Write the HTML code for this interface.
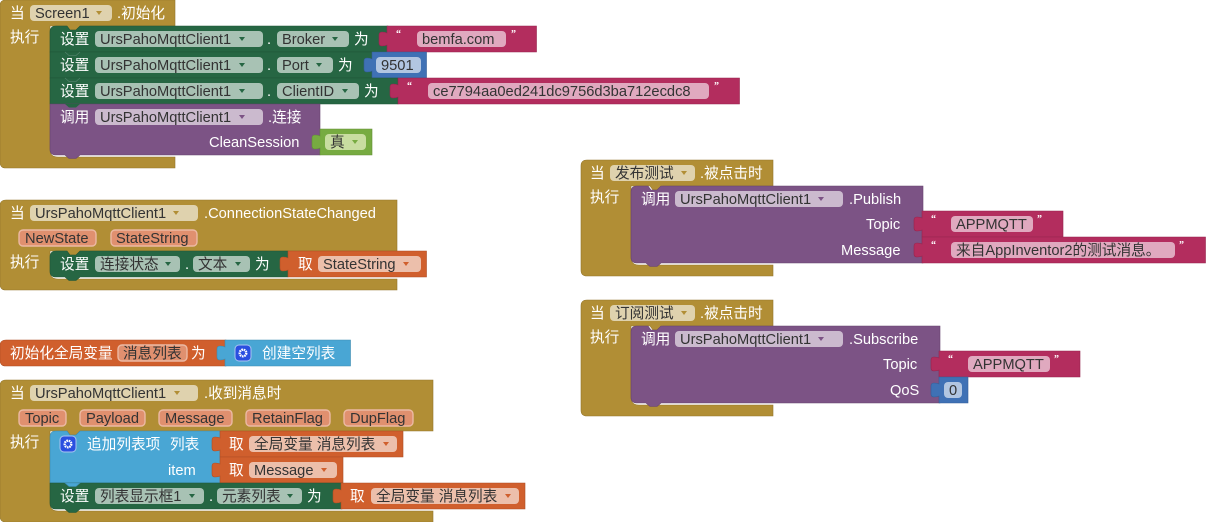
<!DOCTYPE html>
<html><head><meta charset="utf-8">
<style>
html,body{margin:0;padding:0;background:#fff}
svg{display:block}
text{font-family:"Liberation Sans","Noto Sans CJK SC",sans-serif;font-size:14.67px;fill:#fff}
.d{fill:#333}
.q{font-family:"Liberation Serif",serif;font-size:10px;font-weight:bold}
.au{fill:#b18e35;stroke:#93762c;stroke-width:.6}
.gr{fill:#266643;stroke:#1f5537;stroke-width:.6}
.pu{fill:#7c5385;stroke:#67456f;stroke-width:.6}
.ma{fill:#b32d5e;stroke:#95254e;stroke-width:.6}
.bl{fill:#3f71b5;stroke:#345e97;stroke-width:.6}
.lg{fill:#77ab41;stroke:#638e36;stroke-width:.6}
.or{fill:#d05f2d;stroke:#ad4f25;stroke-width:.6}
.li{fill:#49a6d4;stroke:#3d8ab0;stroke-width:.6}
.fa{fill:#dfd2ae}.fg{fill:#a8c2b4}.fp{fill:#cbbace}.fm{fill:#e0a9bf}.fb{fill:#b2c6e1}.fl{fill:#c8dda0}.fo{fill:#ecbfab}
.pa{fill:#e0906f;stroke:#ecb9a3;stroke-width:1.4}
.ta{fill:#b18e35}.tg{fill:#266643}.tp{fill:#7c5385}.tl{fill:#77ab41}.to{fill:#d05f2d}
.ic{fill:#2a4fe0;stroke:#a9c4f0;stroke-width:1}
.g{fill:none;stroke:#fff;stroke-width:2.4;stroke-dasharray:1.6 .7}
.ch{fill:none;stroke:#4f8068;stroke-width:.8}
.cp{fill:none;stroke:#5f8a72;stroke-width:.8}
.cb{fill:none;stroke:#79c0e4;stroke-width:.8}
</style></head>
<body>
<svg width="1206" height="522" viewBox="0 0 1206 522" xmlns="http://www.w3.org/2000/svg">

<!-- Block 1 -->
<path class="au" d="M6 0H175V26H80l-4 4h-6l-3-4H50V150q0 7 8 7H175V168H6q-6 0-6-6V6q0-6 6-6z"/>
<text x="10" y="18">当</text>
<rect class="fa" x="30" y="5" width="82" height="16" rx="4"/>
<text class="d" x="35" y="18">Screen1</text>
<path class="ta" d="M96 11h6l-3 4z"/>
<text x="117" y="18">.初始化</text>
<text x="10" y="42">执行</text>

<path class="gr" d="M56 26H67l3 4h6l4-4H388V52H50V32q0-6 6-6z"/>
<text x="60" y="44">设置</text>
<rect class="fg" x="95" y="31" width="168" height="16" rx="4"/>
<text class="d" x="100" y="44">UrsPahoMqttClient1</text>
<path class="tg" d="M239 37h6l-3 4z"/>
<text x="267" y="44">.</text>
<rect class="fg" x="277" y="31" width="72" height="16" rx="4"/>
<text class="d" x="282" y="44">Broker</text>
<path class="tg" d="M332 37h6l-3 4z"/>
<text x="354" y="44">为</text>
<path class="ma" d="M387 26H536.500V52H387V45c-2 1-4 1-5 1q-3 0-3-3v-8q0-3 3-3c1 0 3 0 5 1z"/>
<text class="q" x="396" y="37">“</text>
<rect class="fm" x="417" y="31" width="89" height="16" rx="4"/>
<text class="d" x="422" y="44">bemfa.com</text>
<text class="q" x="511" y="37">”</text>

<path class="gr" d="M50 52H372V78H50z"/>
<path class="ch" d="M65 52l4 3.500h7l4-3.500"/>
<text x="60" y="70">设置</text>
<rect class="fg" x="95" y="57" width="168" height="16" rx="4"/>
<text class="d" x="100" y="70">UrsPahoMqttClient1</text>
<path class="tg" d="M239 63h6l-3 4z"/>
<text x="267" y="70">.</text>
<rect class="fg" x="277" y="57" width="56" height="16" rx="4"/>
<text class="d" x="282" y="70">Port</text>
<path class="tg" d="M316 63h6l-3 4z"/>
<text x="338" y="70">为</text>
<path class="bl" d="M372 52H426.500V78H372V71c-2 1-4 1-5 1q-3 0-3-3v-8q0-3 3-3c1 0 3 0 5 1z"/>
<rect class="fb" x="376" y="57" width="45" height="16" rx="4"/>
<text class="d" x="381" y="70">9501</text>

<path class="gr" d="M50 78H398V104H50z"/>
<path class="ch" d="M65 78l4 3.500h7l4-3.500"/>
<text x="60" y="96">设置</text>
<rect class="fg" x="95" y="83" width="168" height="16" rx="4"/>
<text class="d" x="100" y="96">UrsPahoMqttClient1</text>
<path class="tg" d="M239 89h6l-3 4z"/>
<text x="267" y="96">.</text>
<rect class="fg" x="277" y="83" width="82" height="16" rx="4"/>
<text class="d" x="282" y="96">ClientID</text>
<path class="tg" d="M342 89h6l-3 4z"/>
<text x="364" y="96">为</text>
<path class="ma" d="M398 78H739.500V104H398V97c-2 1-4 1-5 1q-3 0-3-3v-8q0-3 3-3c1 0 3 0 5 1z"/>
<text class="q" x="407" y="89">“</text>
<rect class="fm" x="428" y="83" width="281" height="16" rx="4"/>
<text class="d" x="433" y="96">ce7794aa0ed241dc9756d3ba712ecdc8</text>
<text class="q" x="714" y="89">”</text>

<path class="pu" d="M50 104H320V155H80l-4 3.500h-7l-4-3.500H56q-6 0-6-6z"/>
<path class="tg" d="M65 104l4 3.500h7l4-3.500z"/>
<text x="60" y="122">调用</text>
<rect class="fp" x="95" y="109" width="168" height="16" rx="4"/>
<text class="d" x="100" y="122">UrsPahoMqttClient1</text>
<path class="tp" d="M239 115h6l-3 4z"/>
<text x="268" y="122">.连接</text>
<text x="209" y="147">CleanSession</text>
<path class="lg" d="M320 129H372V155H320V148c-2 1-4 1-5 1q-3 0-3-3v-8q0-3 3-3c1 0 3 0 5 1z"/>
<rect class="fl" x="325" y="134" width="41" height="16" rx="4"/>
<text class="d" x="330" y="147">真</text>
<path class="tl" d="M352 140h6l-3 4z"/>

<!-- Block 2 -->
<path class="au" d="M6 200H397V251H80l-4 4h-6l-3-4H50V272q0 7 8 7H397V290H6q-6 0-6-6V206q0-6 6-6z"/>
<text x="10" y="218">当</text>
<rect class="fa" x="30" y="205" width="168" height="16" rx="4"/>
<text class="d" x="35" y="218">UrsPahoMqttClient1</text>
<path class="ta" d="M173 211h6l-3 4z"/>
<text x="204" y="218">.ConnectionStateChanged</text>
<rect class="pa" x="19" y="230" width="77" height="16" rx="4"/>
<text class="d" x="25" y="243">NewState</text>
<rect class="pa" x="111" y="230" width="86" height="16" rx="4"/>
<text class="d" x="116" y="243">StateString</text>
<text x="10" y="267">执行</text>
<path class="gr" d="M56 251H67l3 4h6l4-4H288V277H80l-4 3.500h-7l-4-3.500H56q-6 0-6-6V257q0-6 6-6z"/>
<text x="60" y="269">设置</text>
<rect class="fg" x="95" y="256" width="85" height="16" rx="4"/>
<text class="d" x="100" y="269">连接状态</text>
<path class="tg" d="M165 262h6l-3 4z"/>
<text x="185" y="269">.</text>
<rect class="fg" x="193" y="256" width="57" height="16" rx="4"/>
<text class="d" x="198" y="269">文本</text>
<path class="tg" d="M235 262h6l-3 4z"/>
<text x="255" y="269">为</text>
<path class="or" d="M288 251H426.500V277H288V270c-2 1-4 1-5 1q-3 0-3-3v-8q0-3 3-3c1 0 3 0 5 1z"/>
<text x="298" y="269">取</text>
<rect class="fo" x="318" y="256" width="103" height="16" rx="4"/>
<text class="d" x="323" y="269">StateString</text>
<path class="to" d="M403 262h6l-3 4z"/>

<!-- Block 3 -->
<path class="or" d="M6 340H226V366H6q-6 0-6-6V346q0-6 6-6z"/>
<text x="10" y="358">初始化全局变量</text>
<rect class="pa" x="118" y="345" width="69" height="16" rx="4"/>
<text class="d" x="123" y="358">消息列表</text>
<text x="191" y="358">为</text>
<path class="li" d="M225 340H350.500V366H225V359c-2 1-4 1-5 1q-3 0-3-3v-8q0-3 3-3c1 0 3 0 5 1z"/>
<rect class="ic" x="235" y="345" width="16" height="16" rx="4"/>
<circle class="g" cx="243" cy="353" r="3.300"/>
<text x="262" y="358">创建空列表</text>

<!-- Block 4 -->
<path class="au" d="M6 380H433V431H80l-4 4h-6l-3-4H50V504q0 7 8 7H433V522H6q-6 0-6-6V386q0-6 6-6z"/>
<text x="10" y="398">当</text>
<rect class="fa" x="30" y="385" width="168" height="16" rx="4"/>
<text class="d" x="35" y="398">UrsPahoMqttClient1</text>
<path class="ta" d="M174 391h6l-3 4z"/>
<text x="204" y="398">.收到消息时</text>
<rect class="pa" x="19" y="410" width="47" height="16" rx="4"/>
<text class="d" x="25" y="423">Topic</text>
<rect class="pa" x="80" y="410" width="65" height="16" rx="4"/>
<text class="d" x="86" y="423">Payload</text>
<rect class="pa" x="159" y="410" width="73" height="16" rx="4"/>
<text class="d" x="165" y="423">Message</text>
<rect class="pa" x="246" y="410" width="84" height="16" rx="4"/>
<text class="d" x="252" y="423">RetainFlag</text>
<rect class="pa" x="344" y="410" width="69" height="16" rx="4"/>
<text class="d" x="350" y="423">DupFlag</text>
<text x="10" y="447">执行</text>

<path class="li" d="M56 431H67l3 4h6l4-4H221V483H50V437q0-6 6-6z"/>
<rect class="ic" x="60" y="436" width="16" height="16" rx="4"/>
<circle class="g" cx="68" cy="444" r="3.300"/>
<text x="87" y="449">追加列表项</text>
<text x="170" y="449">列表</text>
<text x="168" y="475">item</text>
<path class="or" d="M220 431H403V457H220V450c-2 1-4 1-5 1q-3 0-3-3v-8q0-3 3-3c1 0 3 0 5 1z"/>
<text x="229" y="449">取</text>
<rect class="fo" x="249" y="436" width="148" height="16" rx="4"/>
<text class="d" x="254" y="449">全局变量 消息列表</text>
<path class="to" d="M383 442h6l-3 4z"/>
<path class="or" d="M220 457H343V483H220V476c-2 1-4 1-5 1q-3 0-3-3v-8q0-3 3-3c1 0 3 0 5 1z"/>
<text x="229" y="475">取</text>
<rect class="fo" x="249" y="462" width="88" height="16" rx="4"/>
<text class="d" x="254" y="475">Message</text>
<path class="to" d="M321 468h6l-3 4z"/>

<path class="gr" d="M50 483H342V509H80l-4 3.500h-7l-4-3.500H56q-6 0-6-6z"/>
<path class="li" d="M65 483l4 3.500h7l4-3.500z"/>
<text x="60" y="501">设置</text>
<rect class="fg" x="95" y="488" width="109" height="16" rx="4"/>
<text class="d" x="100" y="501">列表显示框1</text>
<path class="tg" d="M189 494h6l-3 4z"/>
<text x="209" y="501">.</text>
<rect class="fg" x="217" y="488" width="85" height="16" rx="4"/>
<text class="d" x="222" y="501">元素列表</text>
<path class="tg" d="M287 494h6l-3 4z"/>
<text x="307" y="501">为</text>
<path class="or" d="M341 483H525V509H341V502c-2 1-4 1-5 1q-3 0-3-3v-8q0-3 3-3c1 0 3 0 5 1z"/>
<text x="350" y="501">取</text>
<rect class="fo" x="371" y="488" width="148" height="16" rx="4"/>
<text class="d" x="376" y="501">全局变量 消息列表</text>
<path class="to" d="M505 494h6l-3 4z"/>

<!-- Block 5 -->
<path class="au" d="M587 160H773V186H663l-4 4h-6l-3-4H631V258q0 7 8 7H773V276H587q-6 0-6-6V166q0-6 6-6z"/>
<text x="590" y="178">当</text>
<rect class="fa" x="610" y="165" width="85" height="16" rx="4"/>
<text class="d" x="615" y="178">发布测试</text>
<path class="ta" d="M681 171h6l-3 4z"/>
<text x="700" y="178">.被点击时</text>
<text x="590" y="202">执行</text>
<path class="pu" d="M637 186H648l3 4h6l4-4H923V263H661l-4 3.500h-7l-4-3.500H637q-6 0-6-6V192q0-6 6-6z"/>
<text x="641" y="204">调用</text>
<rect class="fp" x="675" y="191" width="168" height="16" rx="4"/>
<text class="d" x="680" y="204">UrsPahoMqttClient1</text>
<path class="tp" d="M818 197h6l-3 4z"/>
<text x="849" y="204">.Publish</text>
<text x="866" y="229">Topic</text>
<text x="841" y="255">Message</text>
<path class="ma" d="M922 211H1063V237H922V230c-2 1-4 1-5 1q-3 0-3-3v-8q0-3 3-3c1 0 3 0 5 1z"/>
<text class="q" x="931" y="222">“</text>
<rect class="fm" x="951" y="216" width="82" height="16" rx="4"/>
<text class="d" x="956" y="229">APPMQTT</text>
<text class="q" x="1037" y="222">”</text>
<path class="ma" d="M922 237H1205.500V263H922V256c-2 1-4 1-5 1q-3 0-3-3v-8q0-3 3-3c1 0 3 0 5 1z"/>
<text class="q" x="931" y="248">“</text>
<rect class="fm" x="951" y="242" width="224" height="16" rx="4"/>
<text class="d" x="956" y="255">来自AppInventor2的测试消息。</text>
<text class="q" x="1179" y="248">”</text>

<!-- Block 6 -->
<path class="au" d="M587 300H773V326H663l-4 4h-6l-3-4H631V398q0 7 8 7H773V416H587q-6 0-6-6V306q0-6 6-6z"/>
<text x="590" y="318">当</text>
<rect class="fa" x="610" y="305" width="85" height="16" rx="4"/>
<text class="d" x="615" y="318">订阅测试</text>
<path class="ta" d="M681 311h6l-3 4z"/>
<text x="700" y="318">.被点击时</text>
<text x="590" y="342">执行</text>
<path class="pu" d="M637 326H648l3 4h6l4-4H940V403H661l-4 3.500h-7l-4-3.500H637q-6 0-6-6V332q0-6 6-6z"/>
<text x="641" y="344">调用</text>
<rect class="fp" x="675" y="331" width="168" height="16" rx="4"/>
<text class="d" x="680" y="344">UrsPahoMqttClient1</text>
<path class="tp" d="M818 337h6l-3 4z"/>
<text x="849" y="344">.Subscribe</text>
<text x="883" y="369">Topic</text>
<text x="890" y="395">QoS</text>
<path class="ma" d="M939 351H1080V377H939V370c-2 1-4 1-5 1q-3 0-3-3v-8q0-3 3-3c1 0 3 0 5 1z"/>
<text class="q" x="948" y="362">“</text>
<rect class="fm" x="968" y="356" width="82" height="16" rx="4"/>
<text class="d" x="973" y="369">APPMQTT</text>
<text class="q" x="1054" y="362">”</text>
<path class="bl" d="M939 377H968V403H939V396c-2 1-4 1-5 1q-3 0-3-3v-8q0-3 3-3c1 0 3 0 5 1z"/>
<rect class="fb" x="944" y="382" width="18" height="16" rx="4"/>
<text class="d" x="949" y="395">0</text>
</svg>
</body></html>
